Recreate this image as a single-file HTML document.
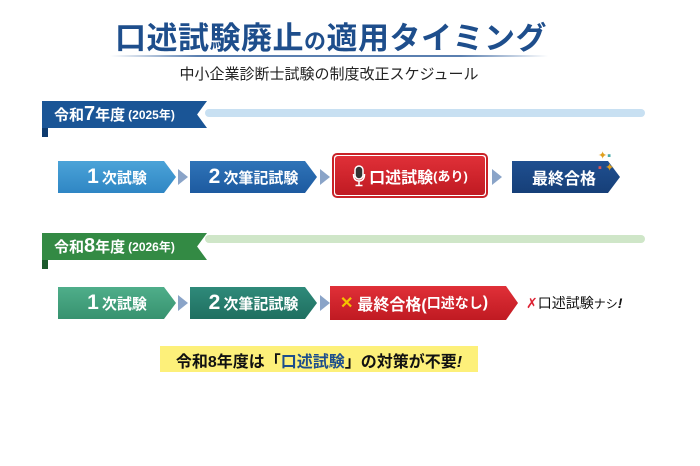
<!DOCTYPE html>
<html><head><meta charset="utf-8"><style>
body{margin:0;width:700px;height:466px;background:#fff;position:relative;overflow:hidden;font-family:"Liberation Sans","Noto Sans CJK JP",sans-serif}
.a{position:absolute}
.t{color:#1e4e8c;font-weight:bold;font-size:31px;left:0;width:662px;text-align:center;top:13px;letter-spacing:0.5px}
.chev{position:absolute;color:#fff;font-weight:bold;font-size:15px;display:flex;align-items:center;justify-content:center;clip-path:polygon(0 0,calc(100% - 12px) 0,100% 50%,calc(100% - 12px) 100%,0 100%)}
.chev b{font-size:21px;margin-right:3px}
.sm{position:absolute;width:10px;height:16px;background:#8aa4c8;clip-path:polygon(0 0,100% 50%,0 100%)}
.ban{position:absolute;color:#fff;font-weight:bold;font-size:15px;display:flex;align-items:center;padding-left:12px;box-sizing:border-box;clip-path:polygon(0 0,100% 0,94% 50%,100% 100%,0 100%)}
.ban b{font-size:20px}
.ban s{text-decoration:none;font-size:12px;margin-left:3px}
</style></head><body>
<div class="a t">口述試験廃止<span style="font-size:22px">の</span>適用タイミング</div>
<div class="a" style="left:110px;top:55px;width:438px;height:2px;background:linear-gradient(90deg,#fff,#5a7fb0 20%,#5a7fb0 80%,#fff)"></div>
<div class="a" style="left:0;width:658px;text-align:center;top:63px;font-size:15px;color:#222">中小企業診断士試験の制度改正スケジュール</div>

<div class="a" style="left:205px;top:109px;width:440px;height:8px;background:#c8e0f2;border-radius:4px"></div>
<div class="a" style="left:42px;top:125px;width:6px;height:12px;background:#0d3a6e"></div>
<div class="ban" style="left:42px;top:101px;width:165px;height:27px;background:#1a5596">令和<b>7</b>年度<s>(2025年)</s></div>

<div class="chev" style="left:58px;top:161px;width:118px;height:32px;background:linear-gradient(#4ba3d8,#2f86c4)"><b>1</b>次試験</div>
<div class="sm" style="left:178px;top:169px"></div>
<div class="chev" style="left:190px;top:161px;width:127px;height:32px;background:linear-gradient(#2f74b8,#1d5aa0)"><b>2</b>次筆記試験</div>
<div class="sm" style="left:320px;top:169px"></div>
<div class="a" style="left:332px;top:153px;width:152px;height:41px;border:2px solid #c92228;border-radius:5px;background:#fff"></div>
<div class="a" style="left:335px;top:156px;width:150px;height:39px;border-radius:3px;background:linear-gradient(#e03038,#c01a22);color:#fff;font-weight:bold;font-size:16px;display:flex;align-items:center;justify-content:center">
<svg width="14" height="22" viewBox="0 0 14 22" style="margin-right:3px"><rect x="3" y="1" width="8" height="13" rx="4" fill="#333" stroke="#fff" stroke-width="1.5"/><path d="M1.5 9 Q1.5 16 7 16 Q12.5 16 12.5 9" fill="none" stroke="#fff" stroke-width="1.5"/><path d="M7 16V20M3.5 20.5H10.5" stroke="#fff" stroke-width="1.5"/></svg>口述試験<span style="font-size:13px">(あり)</span></div>
<div class="sm" style="left:492px;top:169px"></div>
<div class="chev" style="left:512px;top:161px;width:108px;height:32px;background:linear-gradient(#1f4f90,#163f78);font-size:16px;justify-content:flex-start;padding-left:20px;box-sizing:border-box">最終合格</div>
<div class="a" style="left:598px;top:150px;font-size:11px;color:#e0a020;line-height:12px">✦<span style="color:#4aa">▪</span><br><span style="color:#d55">▪</span> ✦</div>

<div class="a" style="left:205px;top:235px;width:440px;height:8px;background:#cfe6c8;border-radius:4px"></div>
<div class="a" style="left:42px;top:257px;width:6px;height:12px;background:#1c5a2c"></div>
<div class="ban" style="left:42px;top:233px;width:165px;height:27px;background:#338a44">令和<b>8</b>年度<s>(2026年)</s></div>

<div class="chev" style="left:58px;top:287px;width:118px;height:32px;background:linear-gradient(#4fae8a,#37926f)"><b>1</b>次試験</div>
<div class="sm" style="left:178px;top:295px"></div>
<div class="chev" style="left:190px;top:287px;width:127px;height:32px;background:linear-gradient(#2f8a7a,#1f6f60)"><b>2</b>次筆記試験</div>
<div class="sm" style="left:320px;top:295px"></div>
<div class="chev" style="left:330px;top:286px;width:188px;height:34px;background:linear-gradient(#e03038,#c01a22);font-size:16px;justify-content:flex-start;padding-left:10px;box-sizing:border-box"><span style="color:#f5c400;margin-right:4px">✕</span>最終合格(<span style="font-size:14px">口述なし</span>)</div>
<div class="a" style="left:526px;top:293px;font-size:14px;color:#111"><span style="color:#d23">✗</span>口述試験<span style="font-size:12px">ナシ</span><i><b>!</b></i></div>

<div class="a" style="left:160px;top:346px;width:318px;height:26px;background:#fdf07a"></div>
<div class="a" style="left:160px;top:348px;width:318px;text-align:center;font-size:16px;font-weight:bold;color:#111">令和8年度は「<span style="color:#1e4e8c">口述試験</span>」の対策が不要<i>!</i></div>
</body></html>
